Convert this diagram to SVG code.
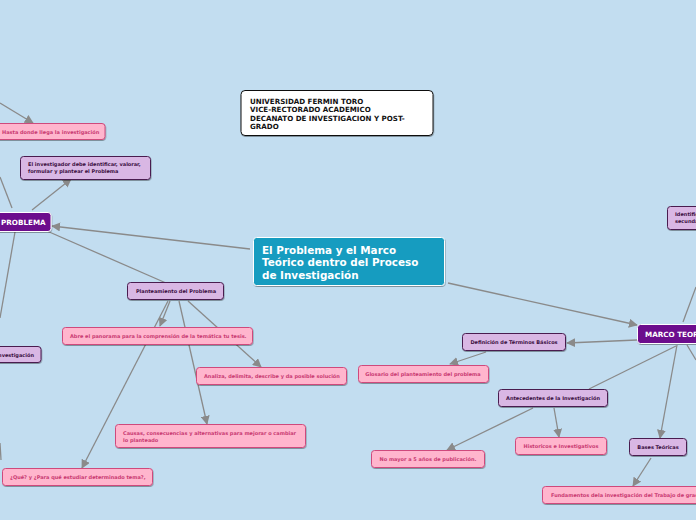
<svg xmlns="http://www.w3.org/2000/svg" width="696" height="520" viewBox="0 0 696 520">
<defs>
<marker id="ah" viewBox="0 0 10 10" refX="9" refY="5" markerWidth="9" markerHeight="9" markerUnits="userSpaceOnUse" orient="auto">
<path d="M0,0 L10,5 L0,10 z" fill="#8a8a8a"/>
</marker>
<filter id="sh" x="-10%" y="-20%" width="120%" height="160%">
<feDropShadow dx="0.5" dy="1" stdDeviation="0.6" flood-color="#000" flood-opacity="0.35"/>
</filter>
<style>
.c{stroke:#8a8a8a;stroke-width:1.3;fill:none}
.a{marker-end:url(#ah)}
.pk rect{fill:#ffb5cd;stroke:#cf4a7c;stroke-width:1}
.pk text{fill:#c93a72;font-family:"DejaVu Sans",Verdana,sans-serif;font-weight:bold;font-size:5px}
.lv rect{fill:#d9b7e4;stroke:#4a1d50;stroke-width:1}
.lv text{fill:#3b0f42;font-family:"DejaVu Sans",Verdana,sans-serif;font-weight:bold;font-size:5px}
.pu rect{fill:#6c0a8d;stroke:#ffffff;stroke-width:1}
.pu text{fill:#ffffff;font-family:"DejaVu Sans",Verdana,sans-serif;font-weight:bold;font-size:7.2px}
rect{filter:url(#sh)}
</style>
</defs>
<rect x="0" y="0" width="696" height="520" fill="#c2ddf0" style="filter:none"/>
<g id="connectors">
<path class="c a" d="M250,249 L52,226"/>
<path class="c a" d="M448,283 L637,325"/>
<path class="c" d="M47,231 L166,283"/>
<path class="c a" d="M32,210 L71,179"/>
<path class="c" d="M12,208 L0,177"/>
<path class="c a" d="M0,103 L33,123"/>
<path class="c" d="M15,232 L0,318"/>
<path class="c" d="M0,443 L1,460"/>
<path class="c a" d="M170,301 L160,326"/>
<path class="c a" d="M168,301 L82,468"/>
<path class="c a" d="M179,301 L207,424"/>
<path class="c a" d="M188,301 L261,367"/>
<path class="c a" d="M637,340 L567,343"/>
<path class="c a" d="M486,352 L450,364"/>
<path class="c" d="M676,346 L589,389"/>
<path class="c a" d="M533,408 L447,450"/>
<path class="c a" d="M554,408 L559,437"/>
<path class="c a" d="M677,345 L660,438"/>
<path class="c a" d="M651,458 L633,486"/>
<path class="c" d="M687,345 L696,360"/>
<path class="c" d="M683,322 L696,287"/>
</g>
<g id="header">
<rect x="241" y="90.5" width="192" height="45" rx="4" fill="#ffffff" stroke="#111" stroke-width="1"/>
<text font-family="'DejaVu Sans',Verdana,sans-serif" font-weight="bold" font-size="7.1" fill="#111">
<tspan x="250" y="103.5">UNIVERSIDAD FERMIN TORO</tspan>
<tspan x="250" y="112">VICE-RECTORADO ACADEMICO</tspan>
<tspan x="250" y="120.5">DECANATO DE INVESTIGACION Y POST-</tspan>
<tspan x="250" y="129">GRADO</tspan>
</text>
</g>
<g id="central">
<rect x="253.5" y="237.5" width="191" height="48" rx="3" fill="#139cc0" stroke="#ffffff" stroke-width="1"/>
<text font-family="'DejaVu Sans',Verdana,sans-serif" font-weight="bold" font-size="10.4" fill="#ffffff">
<tspan x="262" y="253.5">El Problema y el Marco</tspan>
<tspan x="262" y="266">Teórico dentro del Proceso</tspan>
<tspan x="262" y="278.5">de Investigación</tspan>
</text>
</g>
<g id="problema" class="pu">
<rect x="-10" y="212.5" width="61" height="19" rx="3"/>
<text x="1" y="225">PROBLEMA</text>
</g>
<g id="marco" class="pu">
<rect x="637.5" y="324.5" width="70" height="19" rx="3"/>
<text x="645" y="337">MARCO TEORICO</text>
</g>
<g id="hasta" class="pk">
<rect x="-5" y="123.5" width="110" height="16" rx="3"/>
<text x="2" y="133.5">Hasta donde llega la investigación</text>
</g>
<g id="investigador" class="lv">
<rect x="20.5" y="156.5" width="130" height="23" rx="3"/>
<text><tspan x="28" y="166">El investigador debe identificar, valorar,</tspan><tspan x="28" y="173">formular y plantear el Problema</tspan></text>
</g>
<g id="investigacion-left" class="lv">
<rect x="-10" y="346.5" width="51" height="16" rx="3"/>
<text x="34" y="356.5" text-anchor="end">Investigación</text>
</g>
<g id="planteamiento" class="lv">
<rect x="127.5" y="282.5" width="96" height="17" rx="3"/>
<text x="176" y="292.5" text-anchor="middle">Planteamiento del  Problema</text>
</g>
<g id="abre" class="pk">
<rect x="62.5" y="327.5" width="190" height="17" rx="3"/>
<text x="70" y="338">Abre el panorama para la comprensión de la temática tu tesis.</text>
</g>
<g id="analiza" class="pk">
<rect x="196.5" y="367.5" width="150" height="17" rx="3"/>
<text x="204" y="378">Analiza, delimita, describe y da posible solución</text>
</g>
<g id="causas" class="pk">
<rect x="115.5" y="424.5" width="190" height="23" rx="3"/>
<text><tspan x="123" y="435">Causas, consecuencias y alternativas para mejorar o cambiar</tspan><tspan x="123" y="441.5">lo planteado</tspan></text>
</g>
<g id="que" class="pk">
<rect x="2.5" y="468.5" width="150" height="17" rx="3"/>
<text x="10" y="479">¿Qué? y ¿Para qué estudiar determinado tema?,</text>
</g>
<g id="definicion" class="lv">
<rect x="462.5" y="333.5" width="103" height="17" rx="3"/>
<text x="514" y="344" text-anchor="middle">Definición de Términos Básicos</text>
</g>
<g id="glosario" class="pk">
<rect x="358.5" y="365.5" width="130" height="17" rx="3"/>
<text x="423" y="376" text-anchor="middle">Glosario del planteamiento del problema</text>
</g>
<g id="antecedentes" class="lv">
<rect x="498.5" y="389.5" width="109" height="17" rx="3"/>
<text x="553" y="400" text-anchor="middle">Antecedentes de la Investigación</text>
</g>
<g id="historicos" class="pk">
<rect x="515.5" y="437.5" width="91" height="17" rx="3"/>
<text x="561" y="448" text-anchor="middle">Historicos e Investigativos</text>
</g>
<g id="nomayor" class="pk">
<rect x="371.5" y="450.5" width="113" height="17" rx="3"/>
<text x="428" y="461" text-anchor="middle">No mayor a 5 años de publicación.</text>
</g>
<g id="bases" class="lv">
<rect x="629.5" y="438.5" width="57" height="17" rx="3"/>
<text x="658" y="449" text-anchor="middle">Bases Teóricas</text>
</g>
<g id="fundamentos" class="pk">
<rect x="542.5" y="486.5" width="170" height="17" rx="3"/>
<text x="551" y="497">Fundamentos dela investigación del Trabajo de grado</text>
</g>
<g id="identificar" class="lv">
<rect x="667.5" y="206.5" width="40" height="23" rx="3"/>
<text><tspan x="675" y="216">Identificar</tspan><tspan x="675" y="223">secundarias</tspan></text>
</g>
</svg>
